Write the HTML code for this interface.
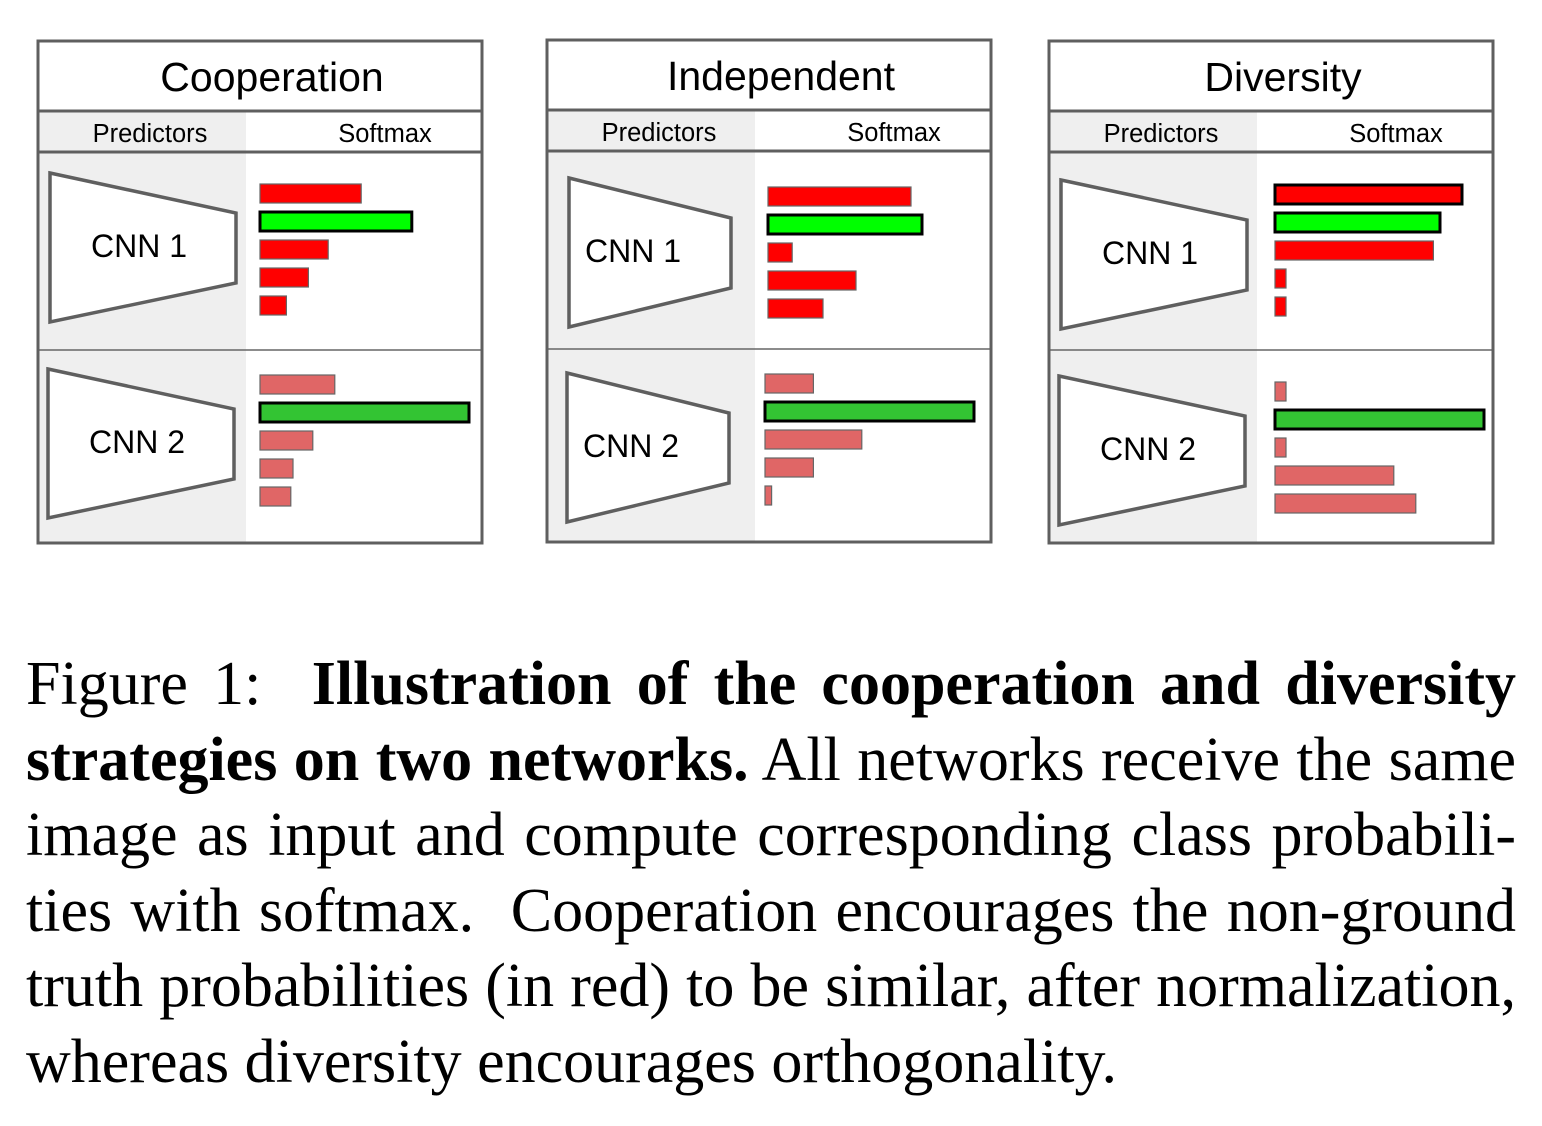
<!DOCTYPE html>
<html><head><meta charset="utf-8"><style>
body{margin:0;background:#fff;width:1542px;height:1126px;overflow:hidden;position:relative}
#fig{position:absolute;left:0;top:0}
#cap{position:absolute;left:26px;top:647px;width:1490px;font-family:"Liberation Serif",serif;font-size:62px;line-height:75.5px;color:#000}
#cap .l{display:block;text-align:justify;text-align-last:justify;white-space:nowrap}
#cap .last{text-align-last:left}
</style></head><body>
<svg id="fig" width="1542" height="600"></svg>
<div id="cap">
<span class="l">Figure 1:&nbsp; <b>Illustration of the cooperation and diversity</b></span>
<span class="l"><b>strategies on two networks.</b> All networks receive the same</span>
<span class="l">image as input and compute corresponding class probabili-</span>
<span class="l">ties with softmax.&nbsp; Cooperation encourages the non-ground</span>
<span class="l">truth probabilities (in red) to be similar, after normalization,</span>
<span class="l last">whereas diversity encourages orthogonality.</span>
</div>
<script>
const titles=["Cooperation","Independent","Diversity"];
const p1c1=[0.46,0.69,0.31,0.22,0.12], p1c2=[0.34,0.95,0.24,0.15,0.14];
const p2c1=[0.65,0.70,0.11,0.40,0.25], p2c2=[0.22,0.95,0.44,0.22,0.03];
const p3c1=[0.85,0.75,0.72,0.05,0.05], p3c2=[0.05,0.95,0.05,0.54,0.64];
const highlight1=[[1],[1],[0,1]], highlight2=[[1],[1],[1]];
const series=[[p1c1,p1c2],[p2c1,p2c2],[p3c1,p3c2]];
const NS="http://www.w3.org/2000/svg";
const svg=document.getElementById('fig');
const px=[38,547,1049], py=[41,40,41];
const trapX=[[12,10],[22,20],[12,10]], trapY=[[132,328],[138,333],[139,335]];
const trapW=[186,162,186], textDx=[89,64,89];
const W=444,H=502,scale=220;
function mk(t,a,par){const e=document.createElementNS(NS,t);for(const k in a)e.setAttribute(k,a[k]);(par||svg).appendChild(e);return e;}
titles.forEach((t,i)=>{
  const g=mk('g',{transform:`translate(${px[i]},${py[i]})`});
  
  
  mk('rect',{x:0,y:70,width:208,height:H-70,fill:'#efefef'},g);
  mk('line',{x1:0,y1:70,x2:W,y2:70,stroke:'#5f5f5f','stroke-width':3},g);
  mk('line',{x1:0,y1:111,x2:W,y2:111,stroke:'#5f5f5f','stroke-width':3},g);
  mk('line',{x1:0,y1:309,x2:W,y2:309,stroke:'#666','stroke-width':1.5},g);
  mk('rect',{x:0,y:0,width:W,height:H,fill:'none',stroke:'#5f5f5f','stroke-width':3},g);
  const tt=mk('text',{x:234,y:50,'text-anchor':'middle','font-family':'Liberation Sans, sans-serif','font-size':41},g);tt.textContent=t;
  
  
  const a=mk('text',{x:112,y:101,'text-anchor':'middle','font-family':'Liberation Sans, sans-serif','font-size':25.5},g);a.textContent='Predictors';
  
  
  const b=mk('text',{x:347,y:101,'text-anchor':'middle','font-family':'Liberation Sans, sans-serif','font-size':25.5},g);b.textContent='Softmax';
  
  
  [0,1].forEach(r=>{
    const tx=trapX[i][r], ty=trapY[i][r], tw=trapW[i];
    const tp=mk('polygon',{points:`${tx},${ty} ${tx+tw},${ty+40} ${tx+tw},${ty+110} ${tx},${ty+149}`,fill:'#fff',stroke:'#5f5f5f','stroke-width':3.5},g);
    
    
    const ct=mk('text',{x:tx+textDx[i],y:ty+84,'text-anchor':'middle','font-family':'Liberation Sans, sans-serif','font-size':32},g);ct.textContent='CNN '+(r+1);
    
    
    const vals=series[i][r], hl=(r?highlight2:highlight1)[i];
    const x0=(i==0?222:i==1?221:226)+(r&&i==1?-3:0);
    const y0=(r?334:143)+(i==1&&r==0?4:0)+(i==2?(r?7:1):0);
    vals.forEach((v,k)=>{
      const thick=hl.includes(k);
      const fill=k==1?(r?'#33c433':'#00ff00'):(r?'#e06666':'#ff0000');
      const rc=mk('rect',{x:x0,y:y0+k*28,width:v*scale,height:19,fill:fill,stroke:thick?'#000':'#666','stroke-width':thick?3:1.2},g);
      
      
    });
  });
});
</script>
</body></html>
